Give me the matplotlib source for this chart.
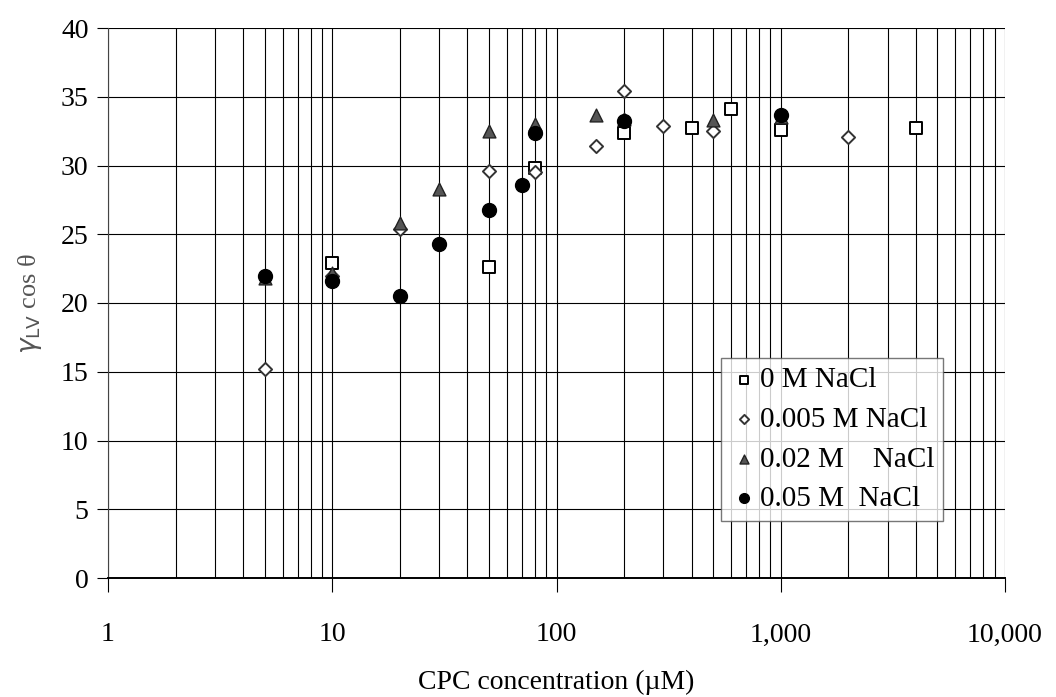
import matplotlib.pyplot as plt
from matplotlib.ticker import FuncFormatter, LogLocator, MultipleLocator

plt.rcParams["font.family"] = ["Liberation Serif", "DejaVu Serif"]

# CPC concentration (uM) and gamma_LV cos(theta) per NaCl level
conc_0 = [10, 50, 80, 200, 400, 600, 1000, 4000]
val_0 = [22.9, 22.6, 29.8, 32.4, 32.7, 34.1, 32.6, 32.7]

conc_005 = [5, 10, 20, 50, 80, 150, 200, 300, 500, 2000]
val_005 = [15.2, 22.0, 25.4, 29.6, 29.5, 31.4, 35.4, 32.9, 32.5, 32.1]

conc_02 = [5, 10, 20, 30, 50, 80, 150, 200, 500, 1000]
val_02 = [21.8, 22.2, 25.8, 28.3, 32.5, 33.0, 33.7, 33.4, 33.3, 33.5]

conc_05 = [5, 10, 20, 30, 50, 70, 80, 200, 1000]
val_05 = [22.0, 21.6, 20.5, 24.3, 26.8, 28.6, 32.4, 33.2, 33.7]

labels = ["0 M NaCl", "0.005 M NaCl", "0.02 M    NaCl", "0.05 M  NaCl"]

fig = plt.figure(figsize=(10.56, 6.97), dpi=100)
ax = fig.add_axes([108 / 1056, 1 - 578 / 697, 897 / 1056, 550 / 697])

ax.scatter(conc_0, val_0, marker="s", s=80, facecolor="white", edgecolor="black",
           linewidth=1.4, label=labels[0], zorder=3)
ax.scatter(conc_005, val_005, marker="D", s=45, facecolor="white", edgecolor="#333333",
           linewidth=1.4, label=labels[1], zorder=4)
ax.scatter(conc_02, val_02, marker="^", s=85, facecolor="#555555", edgecolor="#222222",
           linewidth=1.0, label=labels[2], zorder=5)
ax.scatter(conc_05, val_05, marker="o", s=100, facecolor="black", edgecolor="black",
           label=labels[3], zorder=6)

ax.set_xscale("log")
ax.set_xlim(1, 10000)
ax.set_ylim(0, 40)
ax.yaxis.set_major_locator(MultipleLocator(5))
ax.xaxis.set_major_locator(LogLocator(base=10))
ax.xaxis.set_minor_locator(LogLocator(base=10, subs=range(2, 10)))
ax.xaxis.set_major_formatter(FuncFormatter(lambda v, p: f"{v:,.0f}"))

ax.grid(True, which="both", axis="x", color="black", linewidth=0.8)
ax.grid(True, which="major", axis="y", color="black", linewidth=0.8)
ax.set_axisbelow(True)

for side in ["top", "right"]:
    ax.spines[side].set_visible(False)
ax.spines["left"].set_color("#444444")
ax.spines["bottom"].set_linewidth(1.4)

ax.tick_params(axis="y", which="major", direction="out", length=8, width=0.8,
               labelsize=20, pad=6)
ax.tick_params(axis="x", which="major", direction="out", length=10, width=0.8,
               labelsize=20, pad=22)
ax.tick_params(axis="x", which="minor", length=0)

ax.set_xlabel("CPC concentration (\u00b5M)", fontsize=20, labelpad=16)
ax.set_ylabel(r"$\gamma_{\mathrm{LV}}$ cos " + "\u03b8",
              fontsize=19, color="#555555", labelpad=12)

leg = ax.legend(loc="lower left", bbox_to_anchor=(0.683, 0.104), fontsize=21,
                frameon=True, fancybox=False, edgecolor="#555555",
                handletextpad=0.05, borderpad=0.3, borderaxespad=0.0,
                labelspacing=0.45, handlelength=1.0, markerscale=0.7)
leg.get_frame().set_linewidth(1.0)
leg.set_zorder(10)

fig.savefig("out.png", dpi=100)
